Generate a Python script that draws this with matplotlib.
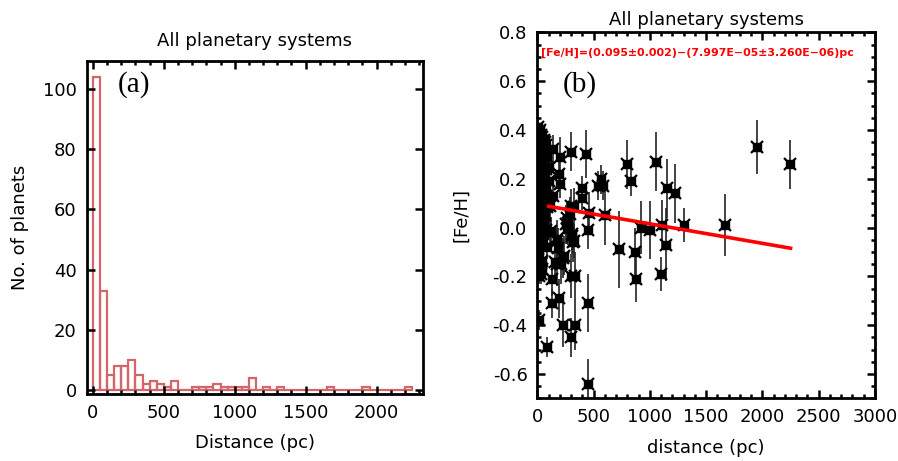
import matplotlib
matplotlib.use("Agg")
import matplotlib.pyplot as plt
from matplotlib.ticker import MultipleLocator
import numpy as np

plt.rcParams['font.family'] = ['DejaVu Sans']
plt.rcParams['axes.unicode_minus'] = False

# ---------------- Panel (a): histogram of distances ----------------
bin_width = 50
hist_counts = [104, 33, 5, 8, 8, 10, 5, 2, 3, 2, 1, 3, 0, 0, 1, 1, 1, 2, 1, 1,
               1, 1, 4, 0, 1, 0, 1, 0, 0, 0, 0, 0, 0, 1, 0, 0, 0, 0, 1, 0,
               0, 0, 0, 0, 1]
hist_ticks = [0, 500, 1000, 1500, 2000]
hist_yticks = [0, 20, 40, 60, 80, 100]

# ---------------- Panel (b): [Fe/H] vs distance ----------------
dist = [1948, 2247, 1667, 1306, 1226, 1149, 1054, 1104, 1140, 1096,
        1001, 921, 835, 800, 867, 880, 728, 598, 569, 542,
        586, 462, 453, 429, 450, 450, 394, 394, 296, 302,
        329, 290, 275, 251, 305, 320, 299, 334, 296, 337,
        228, 190, 127, 130, 89, 204, 142, 192, 201, 142,
        231, 207, 172, 186, 172, 18, 113, 119, 175, 160,
        234, 264, 264, 308, 323, 104, 100,
        8, 15, 22, 30, 12, 35, 5, 45, 60, 20,
        70, 55, 80, 10, 38, 25, 65, 48, 6, 85,
        18, 32, 72, 52, 8, 40, 26, 62, 14, 78,
        45, 30, 5, 58, 20, 68, 38, 10, 50, 27,
        75, 15, 42, 60, 22, 6, 35, 80, 48, 18,
        65, 30, 10, 55, 40, 25, 88, 15, 50, 35,
        5, 70, 20, 45, 30, 60, 12, 40, 25, 75,
        8, 48, 116, 36, 20, 86, 30, 53, 10, 18,
        39, 25, 42, 12, 33]
feh = [0.330, 0.259, 0.010, 0.010, 0.140, 0.160, 0.270, 0.012, -0.071, -0.190,
       -0.010, 0.000, 0.190, 0.259, -0.100, -0.210, -0.090, 0.050, 0.198, 0.171,
       0.171, 0.060, -0.010, 0.300, -0.310, -0.640, 0.160, 0.120, 0.310, 0.089,
       0.082, 0.055, 0.020, 0.014, -0.027, -0.061, -0.200, -0.200, -0.450, -0.400,
       -0.400, -0.290, -0.310, -0.210, -0.490, 0.290, 0.320, 0.220, 0.180, 0.130,
       -0.125, -0.150, -0.150, -0.082, -0.048, -0.380, 0.089, -0.016, -0.054, -0.143,
       -0.116, 0.040, -0.007, -0.034, -0.054, 0.245, 0.190,
       0.41, 0.39, 0.40, 0.38, 0.37, 0.36, 0.35, 0.37, 0.36, 0.34,
       0.35, 0.33, 0.34, 0.33, 0.32, 0.31, 0.31, 0.30, 0.30, 0.29,
       0.29, 0.28, 0.28, 0.27, 0.27, 0.26, 0.25, 0.25, 0.24, 0.24,
       0.23, 0.22, 0.22, 0.21, 0.21, 0.20, 0.20, 0.19, 0.18, 0.18,
       0.17, 0.17, 0.16, 0.15, 0.15, 0.14, 0.14, 0.13, 0.13, 0.12,
       0.12, 0.11, 0.10, 0.10, 0.09, 0.08, 0.085, 0.07, 0.07, 0.06,
       0.05, 0.05, 0.04, 0.03, 0.02, 0.015, 0.01, 0.00, -0.01, -0.01,
       -0.02, -0.02, -0.02, -0.048, -0.05, -0.08, -0.07, -0.068, -0.09, -0.116,
       -0.136, -0.15, -0.17, -0.20, -0.19]
feh_err = [0.110, 0.100, 0.128, 0.070, 0.120, 0.120, 0.120, 0.100, 0.150, 0.070,
           0.120, 0.110, 0.060, 0.100, 0.100, 0.095, 0.157, 0.120, 0.060, 0.060,
           0.060, 0.085, 0.080, 0.098, 0.120, 0.100, 0.050, 0.050, 0.080, 0.070,
           0.080, 0.070, 0.090, 0.080, 0.080, 0.080, 0.090, 0.100, 0.080, 0.100,
           0.090, 0.080, 0.060, 0.070, 0.040, 0.080, 0.060, 0.070, 0.060, 0.060,
           0.080, 0.080, 0.090, 0.080, 0.080, 0.040, 0.080, 0.060, 0.050, 0.070,
           0.080, 0.060, 0.060, 0.060, 0.070, 0.050, 0.040,
           0.03, 0.04, 0.03, 0.04, 0.03, 0.05, 0.03, 0.04, 0.05, 0.03,
           0.04, 0.04, 0.05, 0.03, 0.04, 0.03, 0.04, 0.03, 0.03, 0.05,
           0.03, 0.04, 0.04, 0.03, 0.02, 0.04, 0.03, 0.05, 0.03, 0.04,
           0.03, 0.03, 0.02, 0.04, 0.03, 0.04, 0.03, 0.03, 0.04, 0.03,
           0.05, 0.02, 0.03, 0.04, 0.03, 0.02, 0.03, 0.05, 0.04, 0.03,
           0.04, 0.03, 0.03, 0.04, 0.03, 0.03, 0.05, 0.02, 0.04, 0.03,
           0.02, 0.04, 0.03, 0.03, 0.03, 0.04, 0.02, 0.03, 0.03, 0.05,
           0.02, 0.03, 0.05, 0.04, 0.03, 0.05, 0.03, 0.04, 0.03, 0.03,
           0.04, 0.03, 0.04, 0.03, 0.04]

fit_intercept = 0.095
fit_slope = -7.997e-05
fit_range = [100, 2250]
fit_label = "[Fe/H]=(0.095\u00b10.002)\u2212(7.997E\u221205\u00b13.260E\u221206)pc"

fig = plt.figure(figsize=(8.98, 4.61), dpi=100)

def style_axes(ax):
    for s in ax.spines.values():
        s.set_linewidth(2.0)
    ax.tick_params(which='both', direction='in', top=True, right=True,
                   labelsize=13, width=1.8, pad=7)
    ax.tick_params(which='major', length=6)
    ax.tick_params(which='minor', length=3)

# Panel (a)
ax1 = fig.add_axes([86.5 / 898, (461 - 394) / 461, 336.2 / 898, 333 / 461])
edges = np.arange(len(hist_counts)) * bin_width
ax1.bar(edges, hist_counts, width=bin_width, align='edge', fill=False,
        edgecolor='#d2666a', linewidth=1.6)
ax1.set_xlim(-45, 2325)
ax1.set_ylim(-1.3, 109.3)
ax1.set_xticks(hist_ticks)
ax1.set_yticks(hist_yticks)
ax1.xaxis.set_minor_locator(MultipleLocator(100))
style_axes(ax1)
ax1.set_title("All planetary systems", fontsize=13, pad=11)
ax1.set_xlabel("Distance (pc)", fontsize=13, labelpad=9)
ax1.set_ylabel("No. of planets", fontsize=13, labelpad=10)
ax1.text(0.094, 0.928, "(a)", transform=ax1.transAxes, fontsize=21,
         family='Liberation Serif', va='center', ha='left')

# Panel (b)
ax2 = fig.add_axes([537.3 / 898, (461 - 398.3) / 461, 337.7 / 898, 366 / 461])
ax2.errorbar(dist, feh, yerr=feh_err, fmt='none', ecolor='#222222',
             elinewidth=1.2, capsize=0, zorder=2)
ax2.plot(dist, feh, linestyle='none', marker='s', markersize=6,
         color='black', zorder=3)
ax2.plot(dist, feh, linestyle='none', marker='x', markersize=8,
         markeredgewidth=1.6, color='black', zorder=3)
xf = np.array(fit_range, dtype=float)
ax2.plot(xf, fit_intercept + fit_slope * xf, color='red', linewidth=2.6, zorder=4)
ax2.set_xlim(0, 3000)
ax2.set_ylim(-0.7, 0.8)
ax2.set_xticks([0, 500, 1000, 1500, 2000, 2500, 3000])
ax2.set_yticks([-0.6, -0.4, -0.2, 0.0, 0.2, 0.4, 0.6, 0.8])
ax2.set_yticklabels(["-0.6", "-0.4", "-0.2", "0.0", "0.2", "0.4", "0.6", "0.8"])
ax2.xaxis.set_minor_locator(MultipleLocator(100))
ax2.yaxis.set_minor_locator(MultipleLocator(0.05))
style_axes(ax2)
ax2.set_title("All planetary systems", fontsize=13, pad=5)
ax2.set_xlabel("distance (pc)", fontsize=13, labelpad=9)
ax2.set_ylabel("[Fe/H]", fontsize=13, labelpad=16)
ax2.text(0.012, 0.945, fit_label, transform=ax2.transAxes, fontsize=7.9,
         color='red', fontweight='bold', va='center', ha='left')
ax2.text(0.074, 0.856, "(b)", transform=ax2.transAxes, fontsize=21,
         family='Liberation Serif', va='center', ha='left')

fig.savefig("out.png", dpi=100)
